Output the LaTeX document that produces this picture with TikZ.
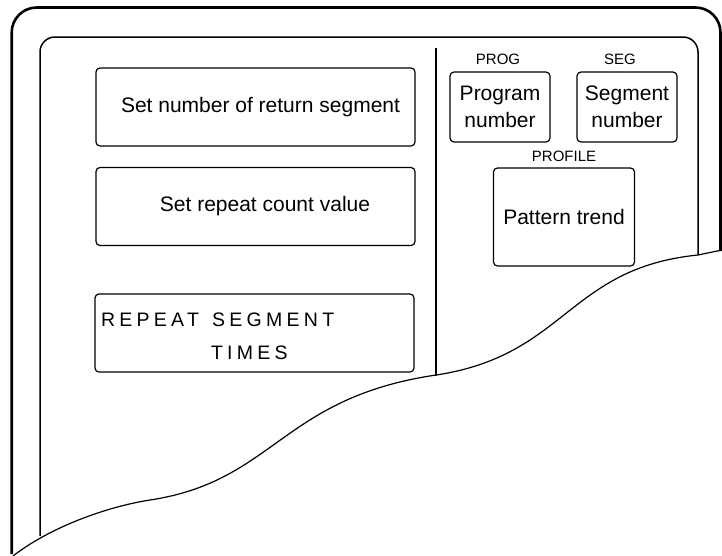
\documentclass[tikz,border=0pt]{standalone}
\usepackage{fontspec}
\setmainfont{Liberation Sans}
\newfontfamily\widefont[LetterSpace=22]{Liberation Sans}
\usetikzlibrary{positioning}

\begin{document}
\begin{tikzpicture}[
    x=1pt, y=-1pt,
    font=\fontsize{21}{27}\selectfont,
    panel/.style={draw, line width=1.2pt, rounded corners=4pt, align=center,
                  inner sep=0pt},
    longbox/.style={panel, minimum width=319pt, minimum height=78pt},
    smallbox/.style={panel, minimum width=100pt, minimum height=70pt},
    heading/.style={font=\fontsize{15}{15}\selectfont, inner sep=0pt,
                    text height=11pt, text depth=0pt},
    outerline/.style={line width=2.6pt, rounded corners=25pt},
    innerline/.style={line width=1.5pt, rounded corners=15pt},
    cutline/.style={line width=1.2pt}
]
\useasboundingbox (0,0) rectangle (722,555);

% casing and display frame
\draw[outerline] (11.7,554) -- (11.7,7.5) -- (720.5,7.5) -- (720.5,251);
\draw[innerline] (40,536) -- (40,37) -- (698,37) -- (698,255);
\draw[line width=2.2pt] (436,48) -- (436,375.5);

% left half
\node[longbox] (retseg) at (255.5,107) {\hspace*{10pt}Set number of return segment};
\node[longbox] (repcount) at (255.5,206.5) {\hspace*{19pt}Set repeat count value};
\node[longbox, text width=307pt, inner xsep=6pt, align=left,
      font=\widefont\fontsize{19.5}{33}\selectfont] (repseg) at (254.5,333)
    {\rule{0pt}{20pt}REPEAT\hspace{13pt}SEGMENT\\\hspace*{110pt}TIMES};

% right half
\node[smallbox] (prog) at (500,107) {Program\\number};
\node[smallbox] (seg) at (627,107) {Segment\\number};
\node[panel, minimum width=141pt, minimum height=98pt] (trend) at (564,217)
    {Pattern trend};
\node[heading, above=6.6pt of prog, xshift=-2pt] (progtag) {PROG};
\node[heading, above=6.6pt of seg, xshift=-7pt] (segtag) {SEG};
\node[heading, above=5.6pt of trend] (trendtag) {PROFILE};

% torn edge
\draw[cutline] (13,556) .. controls (49,528) and (105,507) .. (150,500)
    .. controls (275,481) and (281,398) .. (436,375)
    .. controls (566,355.5) and (568,268) .. (698,255)
    .. controls (710,253.4) .. (722,250);
\end{tikzpicture}
\end{document}
